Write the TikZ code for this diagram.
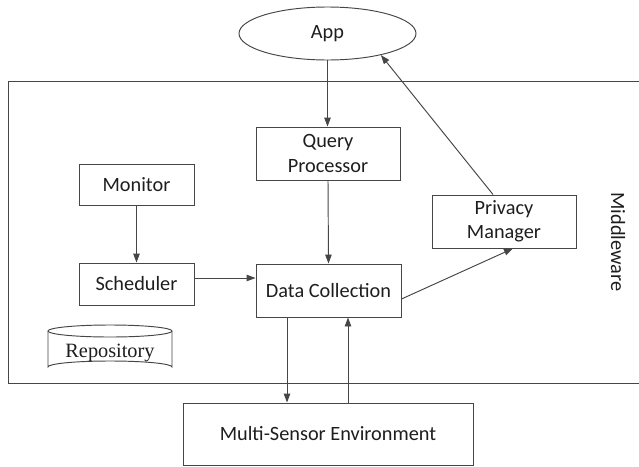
\documentclass[tikz,border=0pt]{standalone}
\usepackage{fontspec}
\setmainfont{Carlito}
\newfontfamily\reposerif{Liberation Serif}
\usetikzlibrary{arrows.meta,shapes.geometric}
\definecolor{linec}{RGB}{70,70,70}
\definecolor{textc}{RGB}{30,30,30}
\tikzset{
  box/.style={draw=linec, line width=0.95pt, rectangle, inner sep=0pt, align=center, text=textc},
  flow/.style={draw=linec, line width=0.95pt, -{Triangle[length=9pt,width=6.5pt]}},
  lbl/.style={text=textc, inner sep=0pt}
}
\begin{document}
\begin{tikzpicture}[x=1pt,y=-1pt,font=\fontsize{20.3}{24.4}\selectfont]
\useasboundingbox[fill=white] (0,0) rectangle (639,466);

% middleware frame (runs off the right edge)
\draw[linec, line width=0.95pt] (650,81) -- (8,81) -- (8,383) -- (650,383);
\node[lbl, rotate=-90] (mw) at (618,242) {Middleware};

% components
\node[box, ellipse, minimum width=177pt, minimum height=53pt] (app) at (327.5,33.5) {App};
\node[box, minimum width=144pt, minimum height=53pt] (qp) at (328,153.5) {Query\\Processor};
\node[box, minimum width=115pt, minimum height=41pt] (mon) at (136.5,184.5) {Monitor};
\node[box, minimum width=115pt, minimum height=42pt] (sch) at (136.5,284) {Scheduler};
\node[box, minimum width=145pt, minimum height=53pt] (dc) at (328.5,290.5) {Data Collection};
\node[box, minimum width=144pt, minimum height=53pt] (pm) at (504,221.5) {Privacy\\Manager};
\node[box, minimum width=290pt, minimum height=62pt] (mse) at (328,434) {Multi-Sensor Environment};

% repository cylinder
\draw[linec, line width=0.95pt]
  (48,331) -- (48,367) arc[start angle=180, end angle=360, x radius=62, y radius=6]
  -- (172,331);
\draw[linec, line width=0.95pt] (110,331) ellipse[x radius=62, y radius=6];
\node[lbl, font=\reposerif\fontsize{20.3}{24}\selectfont] (repo) at (110,353) {Repository};

% connectors
\draw[flow] (app.south) -- (app.south |- qp.north);
\draw[flow] (qp.south) -- (dc.north);
\draw[flow] (mon.south) -- (sch.north);
\coordinate (s1) at ([yshift=6pt]sch.east);
\draw[flow] (s1) -- (s1 -| dc.west);
\draw[flow] ([yshift=-8.5pt]dc.east) -- ([xshift=9pt]pm.south);
\draw[flow] ([xshift=-11pt]pm.north) -- (app.-22);
\coordinate (d1) at ([xshift=-41.5pt]dc.south);
\draw[flow] (d1) -- (d1 |- mse.north);
\coordinate (u1) at ([xshift=20pt]mse.north);
\draw[flow] (u1) -- (u1 |- dc.south);
\end{tikzpicture}
\end{document}
